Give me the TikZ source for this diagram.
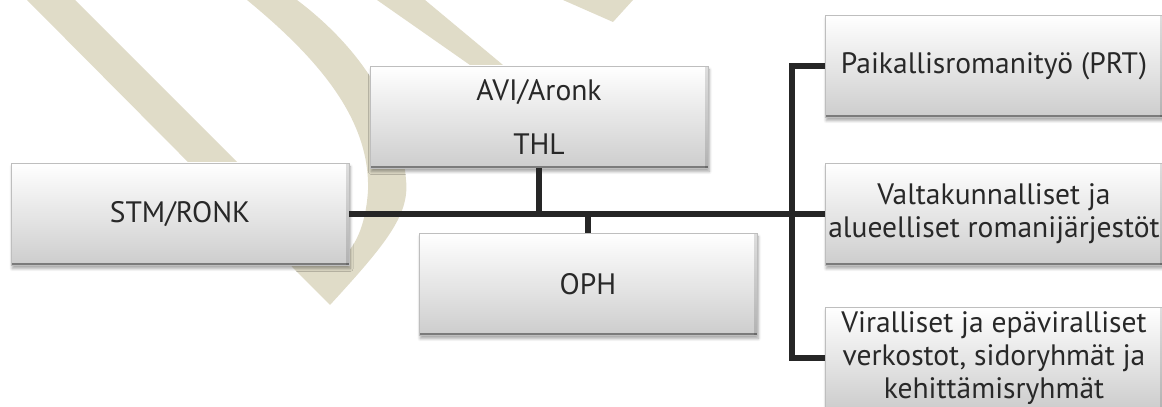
\documentclass[tikz,border=0pt]{standalone}
\usepackage{fontspec}
\setmainfont{PT Sans}
\usetikzlibrary{shadows.blur}
\definecolor{beige}{RGB}{224,220,200}
\definecolor{linegray}{RGB}{38,38,38}
\definecolor{textgray}{RGB}{40,40,40}
\definecolor{boxbottom}{RGB}{205,205,205}
\definecolor{boxedge}{RGB}{190,190,190}
\tikzset{
  orgbox/.style={rectangle, minimum width=8.45cm, minimum height=2.55cm, inner sep=2pt, align=center,
    top color=white, bottom color=boxbottom, draw=boxedge, line width=0.5pt,
    blur shadow={shadow xshift=0.3mm, shadow yshift=-0.9mm, shadow blur steps=6, shadow opacity=35},
    path picture={
      \fill[black, opacity=0.13] ([xshift=-2.2pt]path picture bounding box.north east) rectangle (path picture bounding box.south east);
      \fill[black, opacity=0.4] (path picture bounding box.south west) rectangle ([yshift=1.5pt]path picture bounding box.south east);
    },
    text=textgray, font=\fontsize{21}{23.5}\selectfont},
  link/.style={line width=4.2pt, color=linegray}
}
\begin{document}
\begin{tikzpicture}[x=0.025cm, y=-0.025cm]
        \useasboundingbox (0,0) rectangle (1162,407);
        % watermark
        \fill[beige] (27,0) -- (330,305) .. controls (385,245) and (410,215) .. (406,180)
          .. controls (400,100) and (350,40) .. (297,0) -- (247,0)
          .. controls (320,60) and (370,120) .. (368,190)
          .. controls (366,225) and (355,250) .. (337,262) -- (75,0) -- cycle;
        \fill[beige] (377,0) -- (425,0) -- (545,100) -- (520,100) -- cycle;
        \fill[beige] (563,0) -- (633,0) -- (613,22) -- cycle;
        % boxes
        \node[orgbox] (stm) at (180,214) {STM/RONK};
        \node[orgbox] (avi) at (539,117) {AVI/Aronk\\[15pt]THL};
        \node[orgbox] (oph) at (588,284) {OPH};
        \node[orgbox] (prt) at (994,66) {Paikallisromanityö (PRT)};
        \node[orgbox] (val) at (994,214) {Valtakunnalliset ja\\alueelliset romanijärjestöt};
        \node[orgbox] (vir) at (994,358) {Viralliset ja epäviralliset\\verkostot, sidoryhmät ja\\kehittämisryhmät};
        \coordinate (bus) at (792,214);
        % lines
        \draw[link] (stm.east) -- (val.west);
        \draw[link] (avi.south) -- (avi.south |- bus);
        \draw[link] (oph.north) -- (oph.north |- bus);
        \draw[link] (prt.west) -| (bus) |- (vir.west);
    \end{tikzpicture}
\end{document}
